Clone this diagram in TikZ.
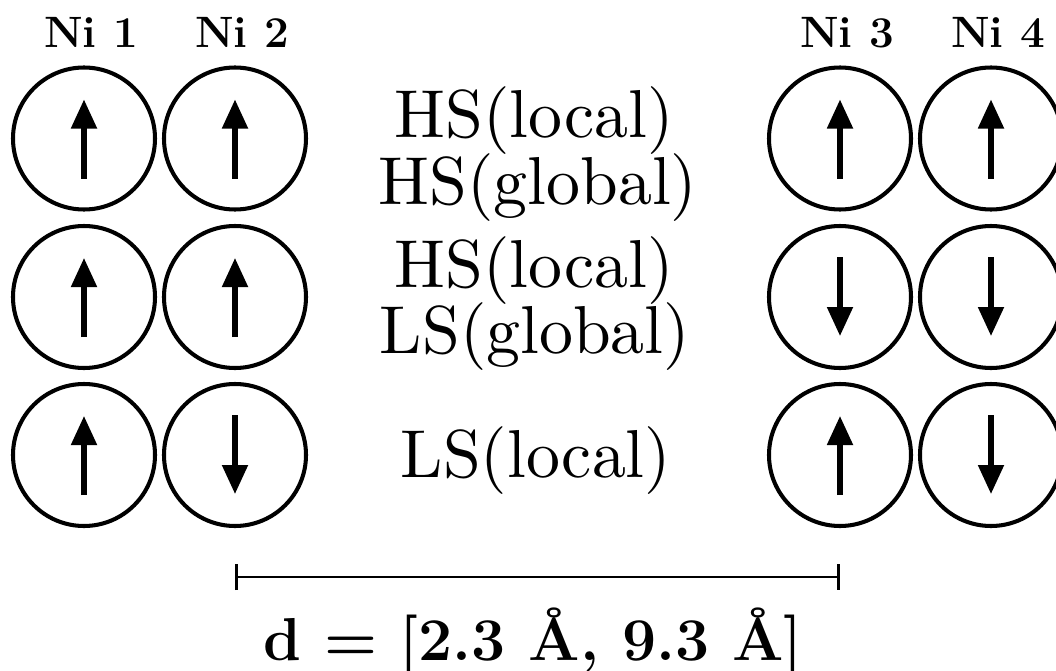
\documentclass[tikz,border=0pt]{standalone}
\usepackage{tikz}
\usetikzlibrary{arrows.meta}
% regular state text in the 10pt design, set large
\font\statefont="[lmroman10-regular]" at 38.6pt
\tikzset{
	site/.style={circle, draw, line width=2.3pt, minimum size=2.84cm, inner sep=0pt},
	spin/.style={line width=2.9pt, -{Triangle[length=0.58cm, width=0.5cm]}},
	atomlabel/.style={anchor=base, font=\fontsize{25}{30}\selectfont\bfseries},
	statelabel/.style={anchor=base, inner sep=0pt, font=\statefont}
}

\begin{document}
\begin{tikzpicture}
	\useasboundingbox (0,0) rectangle (21.12,-13.42);
	% atom labels
	\node[atomlabel] (n1) at (1.82,-0.94) {Ni 1};
	\node[atomlabel] (n2) at (4.84,-0.94) {Ni 2};
	\node[atomlabel] (n3) at (16.94,-0.94) {Ni 3};
	\node[atomlabel] (n4) at (19.96,-0.94) {Ni 4};
	% sites, row by row
	\foreach \r/\y in {1/-2.77, 2/-5.94, 3/-9.10} {
		\node[site] (s\r1) at (1.68,\y) {};
		\node[site] (s\r2) at (4.70,\y) {};
		\node[site] (s\r3) at (16.80,\y) {};
		\node[site] (s\r4) at (19.82,\y) {};
	}
	% spins up
	\foreach \s in {s11,s12,s13,s14,s21,s22,s31,s33}
		\draw[spin] ([yshift=-0.8cm]\s.center) -- ([yshift=0.78cm]\s.center);
	% spins down
	\foreach \s in {s23,s24,s32,s34}
		\draw[spin] ([yshift=0.8cm]\s.center) -- ([yshift=-0.78cm]\s.center);
	% states
	\node[statelabel] (st1a) at (10.68,-2.74) {HS(local)};
	\node[statelabel] (st1b) at (10.76,-4.09) {HS(global)};
	\node[statelabel] (st2a) at (10.68,-5.75) {HS(local)};
	\node[statelabel] (st2b) at (10.70,-7.07) {LS(global)};
	\node[statelabel] (st3) at (10.72,-9.55) {LS(local)};
	% distance bar
	\coordinate (dL) at (4.70,-11.54);
	\coordinate (dR) at (16.80,-11.54);
	\draw[line width=1.7pt, {Bar[width=0.52cm]}-{Bar[width=0.52cm]}] (dL) -- (dR);
	\node[anchor=base, font=\fontsize{34.5}{40}\selectfont\bfseries] (dist) at (10.66,-13.2) {d = [2.3 Å, 9.3 Å]};
\end{tikzpicture}
\end{document}
